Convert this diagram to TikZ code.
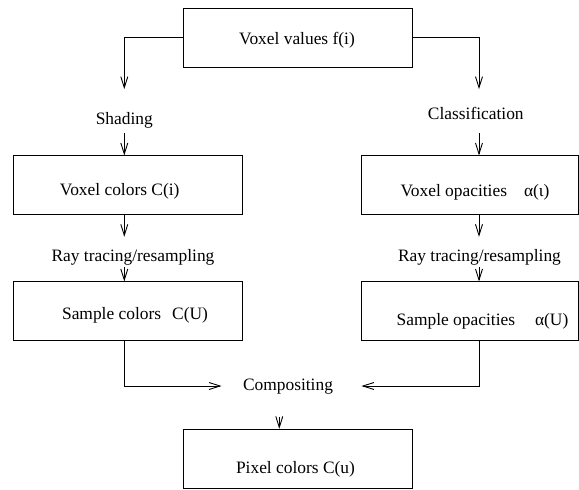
\documentclass[tikz,border=0pt]{standalone}
\usepackage{fontspec}
\setmainfont{Liberation Serif}
\usetikzlibrary{arrows.meta}

\begin{document}
\begin{tikzpicture}[
  x=1pt, y=-1pt,
  box/.style={rectangle, draw=black, line width=0.9pt, inner sep=0pt,
               minimum width=229pt, minimum height=59pt},
  sidebox/.style={box, minimum width=217pt},
  txt/.style={inner sep=0pt, text height=12pt, text depth=4pt,
               font=\fontsize{17.4}{20}\selectfont},
  arr/.style={-{Straight Barb[length=11pt, width=7pt]}, line width=0.9pt},
]
\useasboundingbox (0,0) rectangle (579,490);

% columns of the vertical connectors
\coordinate (lcol) at (124.3,0);
\coordinate (rcol) at (479,0);
\coordinate (mcol) at (279.3,0);

\node[box]     (values)    at (298,37.5)   {};
\node[txt]     (valuestxt) at (297,40)     {Voxel values f(i)};

\node[txt]     (shading)   at (124.3,120)  {Shading};
\node[txt]     (classif)   at (475.8,115)  {Classification};

\node[box]     (vcol)      at (128,185.4)  {};
\node[txt]     (vcoltxt)   at (119.7,191)  {Voxel colors C(i)};
\node[sidebox] (vopa)      at (469.5,185.4) {};
\node[txt]     (vopatxt)   at (475,192)    {Voxel opacities\hspace{17pt}α(ι)};

\node[txt]     (ray1)      at (133,257)    {Ray tracing/resampling};
\node[txt]     (ray2)      at (479.5,257)  {Ray tracing/resampling};

\node[box]     (scol)      at (128,311.4)  {};
\node[txt]     (scoltxt)   at (135,315)    {Sample colors\hspace{11pt}C(U)};
\node[sidebox] (sopa)      at (469.5,311.4) {};
\node[txt]     (sopatxt)   at (482.5,321)  {Sample opacities\hspace{20pt}α(U)};

\node[txt]     (comp)      at (288,386)    {Compositing};

\node[box]     (pix)       at (298,458.8)  {};
\node[txt]     (pixtxt)    at (295.5,469)  {Pixel colors C(u)};

\draw[arr, shorten >=22.7pt] (values.west) -| (lcol |- shading.north);
\draw[arr, shorten >=17.7pt] (values.east) -| (rcol |- classif.north);
\draw[arr, shorten <=5pt]    (lcol |- shading.south) -- (lcol |- vcol.north);
\draw[arr, shorten <=10pt]   (rcol |- classif.south) -- (rcol |- vopa.north);
\draw[arr, shorten >=12pt]   (lcol |- vcol.south) -- (lcol |- ray1.north);
\draw[arr, shorten >=12pt]   (rcol |- vopa.south) -- (rcol |- ray2.north);
\draw[arr, shorten <=1.7pt]  (lcol |- ray1.south) -- (lcol |- scol.north);
\draw[arr, shorten <=1.7pt]  (rcol |- ray2.south) -- (rcol |- sopa.north);
\draw[arr, shorten >=21.3pt] (lcol |- scol.south) |- (comp.west);
\draw[arr, shorten >=28.3pt] (rcol |- sopa.south) |- (comp.east);
\draw[arr, shorten <=22.7pt] (mcol |- comp.south) -- (mcol |- pix.north);
\end{tikzpicture}
\end{document}
